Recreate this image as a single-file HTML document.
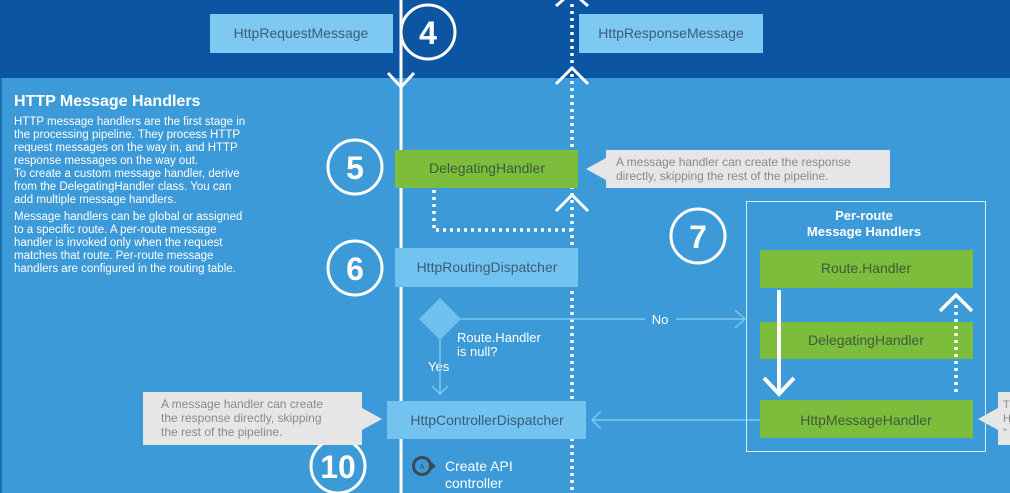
<!DOCTYPE html>
<html><head><meta charset="utf-8"><style>
html,body{margin:0;padding:0;width:1010px;height:493px;overflow:hidden;background:#3a99d6}
svg text{font-family:"Liberation Sans",sans-serif}
</style></head><body>
<svg width="1010" height="493" xmlns="http://www.w3.org/2000/svg">
<rect x="0" y="0" width="1010" height="493" fill="#3b9ad7"/>
<rect x="0" y="0" width="1010" height="78" fill="#0c55a3"/>
<rect x="0" y="78" width="2" height="415" fill="#1f6fb8"/>
<!-- top boxes -->
<rect x="210" y="14" width="183" height="39" fill="#7dc9f1"/>
<text x="301" y="38" font-size="14" fill="#3d5b78" text-anchor="middle">HttpRequestMessage</text>
<rect x="579" y="14" width="184" height="39" fill="#7dc9f1"/>
<text x="671" y="38" font-size="14" fill="#3d5b78" text-anchor="middle">HttpResponseMessage</text>
<!-- main lines -->
<line x1="401" y1="0" x2="401" y2="493" stroke="#fff" stroke-width="3"/>
<polyline points="388,73 401,87 414,73" fill="none" stroke="#fff" stroke-width="3"/>
<line x1="572" y1="4" x2="572" y2="493" stroke="#fff" stroke-width="3.5" stroke-dasharray="3,4"/>
<polyline points="556,6 572,-8 588,6" fill="none" stroke="#fff" stroke-width="3"/>
<polyline points="556,84 572,68 588,84" fill="none" stroke="#fff" stroke-width="3"/>
<polyline points="556,211 572,195 588,211" fill="none" stroke="#fff" stroke-width="3"/>
<!-- circles -->
<g fill="none" stroke="#fff" stroke-width="3">
<circle cx="428" cy="32" r="27"/><circle cx="355" cy="167" r="27"/>
<circle cx="355" cy="268" r="27"/><circle cx="698" cy="236" r="27"/>
<circle cx="338" cy="466" r="27"/></g>
<g fill="#fff" font-weight="bold" text-anchor="middle">
<text x="428" y="44" font-size="32">4</text><text x="355" y="179" font-size="32">5</text>
<text x="355" y="280" font-size="32">6</text><text x="698" y="248" font-size="32">7</text>
<text x="338" y="478" font-size="32">10</text></g>
<!-- left text -->
<text x="14" y="106" font-size="16" font-weight="bold" fill="#fff">HTTP Message Handlers</text>
<g font-size="11.5" fill="#fff">
<text x="14" y="125">HTTP message handlers are the first stage in</text>
<text x="14" y="138">the processing pipeline. They process HTTP</text>
<text x="14" y="151">request messages on the way in, and HTTP</text>
<text x="14" y="164">response messages on the way out.</text>
<text x="14" y="177">To create a custom message handler, derive</text>
<text x="14" y="190">from the DelegatingHandler class. You can</text>
<text x="14" y="203">add multiple message handlers.</text>
<text x="14" y="220">Message handlers can be global or assigned</text>
<text x="14" y="233">to a specific route. A per-route message</text>
<text x="14" y="246">handler is invoked only when the request</text>
<text x="14" y="259">matches that route. Per-route message</text>
<text x="14" y="272">handlers are configured in the routing table.</text></g>
<!-- delegating handler -->
<rect x="395" y="150" width="183" height="38" fill="#7cbd3c"/>
<text x="487" y="173" font-size="14" fill="#3f5a3a" text-anchor="middle">DelegatingHandler</text>
<polyline points="434,190 434,230 572,230" fill="none" stroke="#fff" stroke-width="3.5" stroke-dasharray="3,4"/>
<polygon points="586,169 606,158 606,180" fill="#e6e6e6"/>
<rect x="606" y="150" width="284" height="38" fill="#e6e6e6"/>
<g font-size="12" fill="#8a8a8a"><text x="616" y="166">A message handler can create the response</text>
<text x="616" y="180">directly, skipping the rest of the pipeline.</text></g>
<!-- routing dispatcher -->
<rect x="395" y="248" width="183" height="39" fill="#72c3ef"/>
<text x="487" y="272" font-size="14" fill="#3d5b78" text-anchor="middle">HttpRoutingDispatcher</text>
<polygon points="440,298 461,319 440,340 419,319" fill="#6fc2ef"/>
<line x1="461" y1="319" x2="645" y2="319" stroke="#7dc9f1" stroke-width="1.5"/>
<line x1="676" y1="319" x2="745" y2="319" stroke="#7dc9f1" stroke-width="1.5"/>
<polyline points="735,310 745,319 735,328" fill="none" stroke="#7dc9f1" stroke-width="1.5"/>
<text x="660" y="324" font-size="13" fill="#fff" text-anchor="middle">No</text>
<g font-size="13" fill="#fff"><text x="457" y="342">Route.Handler</text><text x="457" y="356">is null?</text>
<text x="428" y="371">Yes</text></g>
<line x1="440" y1="340" x2="440" y2="394" stroke="#7dc9f1" stroke-width="1.5"/>
<polyline points="432,386 440,394 448,386" fill="none" stroke="#7dc9f1" stroke-width="1.5"/>
<!-- controller dispatcher -->
<rect x="387" y="401" width="199" height="38" fill="#72c3ef"/>
<text x="487" y="425" font-size="14" fill="#3d5b78" text-anchor="middle">HttpControllerDispatcher</text>
<line x1="592" y1="420" x2="760" y2="420" stroke="#7dc9f1" stroke-width="1.5"/>
<polyline points="601,411 592,420 601,429" fill="none" stroke="#7dc9f1" stroke-width="1.5"/>
<polygon points="382,419 362,408 362,430" fill="#e6e6e6"/>
<rect x="143" y="392" width="219" height="53" fill="#e6e6e6"/>
<g font-size="12" fill="#8a8a8a"><text x="161" y="408">A message handler can create</text>
<text x="161" y="422">the response directly, skipping</text><text x="161" y="436">the rest of the pipeline.</text></g>
<circle cx="422" cy="466" r="8.5" fill="none" stroke="#3d4a55" stroke-width="3"/>
<polygon points="430,461 436,466 430,471" fill="#3d4a55"/>
<text x="422" y="469" font-size="7" fill="#3d4a55" text-anchor="middle">A</text>
<g font-size="14" fill="#fff"><text x="445" y="471">Create API</text><text x="445" y="488">controller</text></g>
<!-- per-route -->
<rect x="746.5" y="201.5" width="239" height="250" fill="none" stroke="#d8ecf8" stroke-width="1"/>
<g font-size="13" font-weight="bold" fill="#fff" text-anchor="middle"><text x="864" y="220">Per-route</text><text x="864" y="236">Message Handlers</text></g>
<rect x="760" y="250" width="213" height="38" fill="#7cbd3c"/>
<text x="866" y="273" font-size="14" fill="#3f5a3a" text-anchor="middle">Route.Handler</text>
<rect x="760" y="322" width="213" height="37" fill="#7cbd3c"/>
<text x="866" y="345" font-size="14" fill="#3f5a3a" text-anchor="middle">DelegatingHandler</text>
<rect x="760" y="400" width="213" height="38" fill="#7cbd3c"/>
<text x="866" y="425" font-size="14" fill="#3f5a3a" text-anchor="middle">HttpMessageHandler</text>
<line x1="779" y1="290" x2="779" y2="394" stroke="#fff" stroke-width="4"/>
<polyline points="764,378 779,394 794,378" fill="none" stroke="#fff" stroke-width="4"/>
<line x1="956" y1="305" x2="956" y2="396" stroke="#fff" stroke-width="3.5" stroke-dasharray="3,4"/>
<polyline points="940,311 956,295 972,311" fill="none" stroke="#fff" stroke-width="3.5"/>
<polygon points="978,419 998,408 998,430" fill="#e6e6e6"/>
<rect x="998" y="392" width="12" height="53" fill="#e6e6e6"/>
<g font-size="11" fill="#8a8a8a"><text x="1003" y="408">T</text><text x="1003" y="422">H</text><text x="1003" y="436">"</text></g>
</svg>
</body></html>
